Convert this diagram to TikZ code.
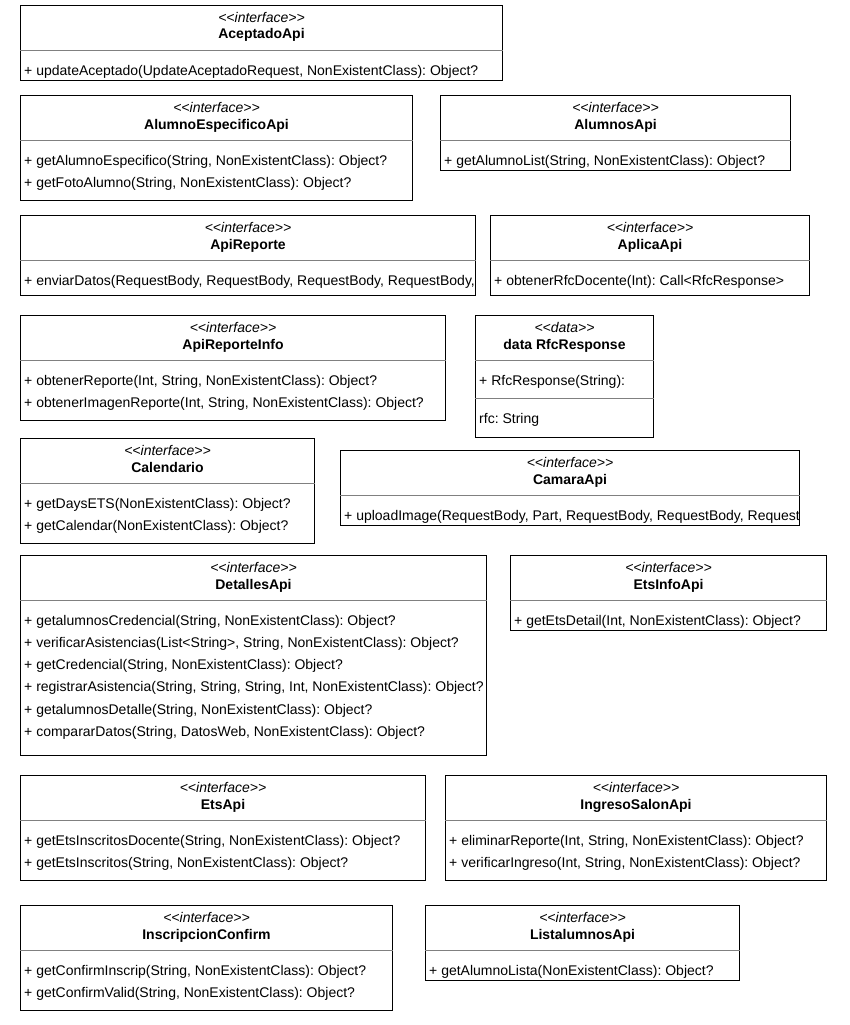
\documentclass[tikz,border=0pt]{standalone}
\usepackage{fontspec}
\setmainfont{Liberation Sans}
\frenchspacing
\begin{document}
\begin{tikzpicture}[x=1pt,y=-1pt,
  cls/.style={draw=black, line width=1pt, fill=white, inner sep=0pt, anchor=north west},
  divline/.style={draw=black!50, line width=1pt},
  sttxt/.style={font=\fontsize{14}{16}\selectfont\itshape, anchor=base, inner sep=0pt},
  titletxt/.style={font=\fontsize{14}{16}\selectfont\bfseries, anchor=base, inner sep=0pt},
  methtxt/.style={font=\fontsize{14}{16}\selectfont, anchor=base west, inner sep=0pt}]
\newcommand\umlst[1]{<\kern0pt<#1>\kern0pt>}
% #1 name, #2 x1, #3 y1, #4 x2, #5 y2, #6 stereotype, #7 title
\newcommand\umlbox[7]{%
  \node[cls, minimum width={#4-#2}, minimum height={#5-#3}] (#1) at (#2,#3) {};
  \draw[divline] ([yshift=-45.5pt]#1.north west) -- ([yshift=-45.5pt]#1.north east);
  \node[sttxt] (#1-st) at ([yshift=-17.3pt]#1.north) {\umlst{#6}};
  \node[titletxt] (#1-ti) at ([yshift=-34pt]#1.north) {#7};
}
% #1 name, #2 index, #3 text
\newcommand\umlmeth[3]{%
  \node[methtxt] (#1-m#2) at ([xshift=4pt,yshift={-70.3pt-(#2-1)*22.2pt}]#1.north west) {#3};
}
\useasboundingbox (0,0) rectangle (850,1025);
\fill[white] (0,0) rectangle (850,1025);

\umlbox{ace}{20}{5}{502}{80}{interface}{AceptadoApi}
\umlmeth{ace}{1}{+ updateAceptado(UpdateAceptadoRequest, NonExistentClass): Object?}

\umlbox{aesp}{20}{95}{412}{200}{interface}{AlumnoEspecificoApi}
\umlmeth{aesp}{1}{+ getAlumnoEspecifico(String, NonExistentClass): Object?}
\umlmeth{aesp}{2}{+ getFotoAlumno(String, NonExistentClass): Object?}

\umlbox{alum}{440}{95}{790}{170}{interface}{AlumnosApi}
\umlmeth{alum}{1}{+ getAlumnoList(String, NonExistentClass): Object?}

\umlbox{arep}{20}{215}{475}{295}{interface}{ApiReporte}
\begin{scope}
\clip (arep.north west) rectangle (arep.south east);
\umlmeth{arep}{1}{+ enviarDatos(RequestBody, RequestBody, RequestBody, RequestBody,}
\end{scope}

\umlbox{apli}{490}{215}{809}{295}{interface}{AplicaApi}
\umlmeth{apli}{1}{+ obtenerRfcDocente(Int): Call<RfcResponse>}

\umlbox{arepi}{20}{315}{445}{420}{interface}{ApiReporteInfo}
\umlmeth{arepi}{1}{+ obtenerReporte(Int, String, NonExistentClass): Object?}
\umlmeth{arepi}{2}{+ obtenerImagenReporte(Int, String, NonExistentClass): Object?}

\umlbox{rfc}{475}{315}{653}{437}{data}{data RfcResponse}
\draw[divline] ([yshift=-83pt]rfc.north west) -- ([yshift=-83pt]rfc.north east);
\umlmeth{rfc}{1}{+ RfcResponse(String):}
\node[methtxt] (rfc-a1) at ([xshift=4pt,yshift=-108pt]rfc.north west) {rfc: String};

\umlbox{cal}{20}{438}{314}{543}{interface}{Calendario}
\umlmeth{cal}{1}{+ getDaysETS(NonExistentClass): Object?}
\umlmeth{cal}{2}{+ getCalendar(NonExistentClass): Object?}

\umlbox{cam}{340}{450}{799}{525}{interface}{CamaraApi}
\begin{scope}
\clip (cam.north west) rectangle (cam.south east);
\umlmeth{cam}{1}{+ uploadImage(RequestBody, Part, RequestBody, RequestBody, Request}
\end{scope}

\umlbox{det}{20}{555}{486}{755}{interface}{DetallesApi}
\umlmeth{det}{1}{+ getalumnosCredencial(String, NonExistentClass): Object?}
\umlmeth{det}{2}{+ verificarAsistencias(List<String>, String, NonExistentClass): Object?}
\umlmeth{det}{3}{+ getCredencial(String, NonExistentClass): Object?}
\umlmeth{det}{4}{+ registrarAsistencia(String, String, String, Int, NonExistentClass): Object?}
\umlmeth{det}{5}{+ getalumnosDetalle(String, NonExistentClass): Object?}
\umlmeth{det}{6}{+ compararDatos(String, DatosWeb, NonExistentClass): Object?}

\umlbox{etsi}{510}{555}{826}{630}{interface}{EtsInfoApi}
\umlmeth{etsi}{1}{+ getEtsDetail(Int, NonExistentClass): Object?}

\umlbox{ets}{20}{775}{425}{880}{interface}{EtsApi}
\umlmeth{ets}{1}{+ getEtsInscritosDocente(String, NonExistentClass): Object?}
\umlmeth{ets}{2}{+ getEtsInscritos(String, NonExistentClass): Object?}

\umlbox{ing}{445}{775}{826}{880}{interface}{IngresoSalonApi}
\umlmeth{ing}{1}{+ eliminarReporte(Int, String, NonExistentClass): Object?}
\umlmeth{ing}{2}{+ verificarIngreso(Int, String, NonExistentClass): Object?}

\umlbox{insc}{20}{905}{392}{1010}{interface}{InscripcionConfirm}
\umlmeth{insc}{1}{+ getConfirmInscrip(String, NonExistentClass): Object?}
\umlmeth{insc}{2}{+ getConfirmValid(String, NonExistentClass): Object?}

\umlbox{lista}{425}{905}{739}{980}{interface}{ListalumnosApi}
\umlmeth{lista}{1}{+ getAlumnoLista(NonExistentClass): Object?}
\end{tikzpicture}
\end{document}
